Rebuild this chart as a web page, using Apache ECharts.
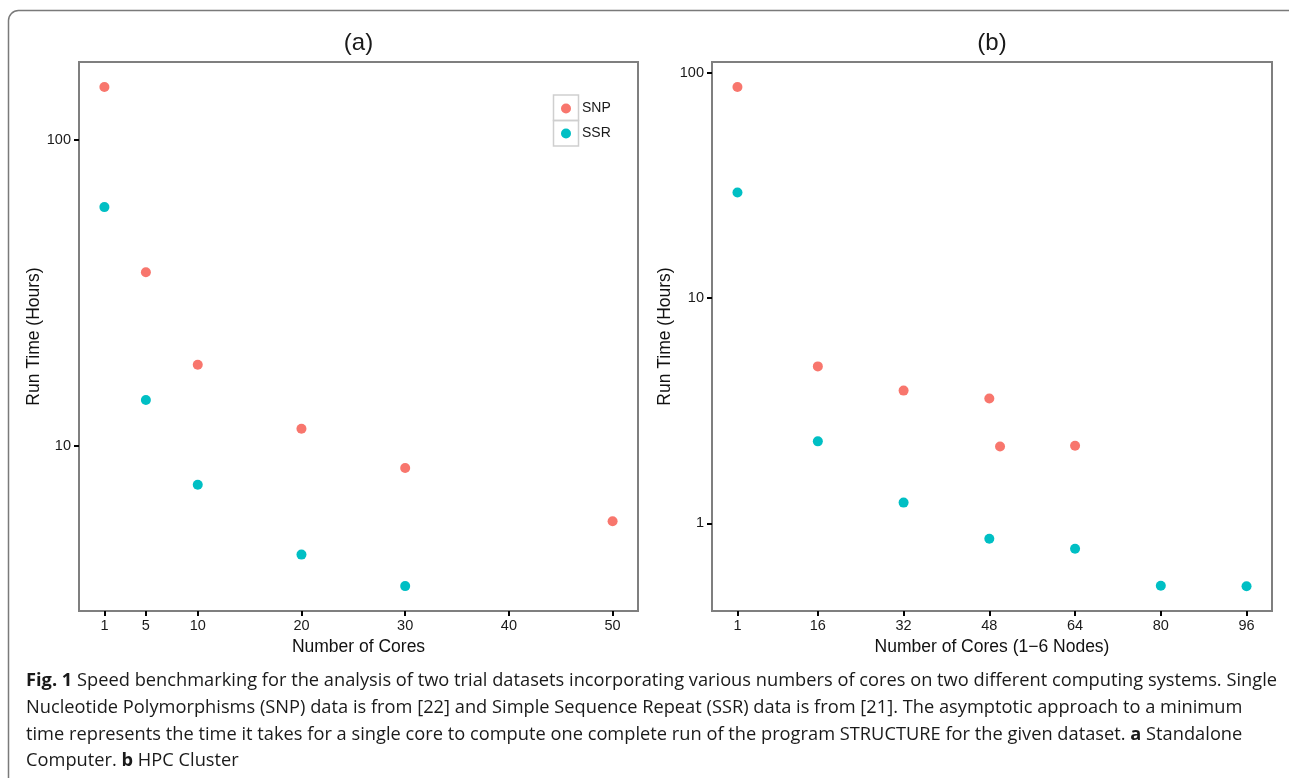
<!DOCTYPE html>
<html>
<head>
<meta charset="utf-8">
<script src="https://cdn.jsdelivr.net/npm/echarts@6/dist/echarts.min.js"></script>
<style>
html,body{margin:0;padding:0;background:#fff;}
#chart{width:1289px;height:778px;}
</style>
</head>
<body>
<div id="chart"></div>
<script>
// ---------- data ----------
const seriesNames = ['SNP', 'SSR'];

// Panel (a): Standalone computer
const coresA_SNP = [1, 5, 10, 20, 30, 50];
const hoursA_SNP = [149, 36.9, 18.4, 11.35, 8.45, 5.66];
const coresA_SSR = [1, 5, 10, 20, 30];
const hoursA_SSR = [60.3, 14.1, 7.45, 4.40, 3.47];

// Panel (b): HPC cluster
const coresB_SNP = [1, 16, 32, 48, 50, 64];
const hoursB_SNP = [86.3, 4.97, 3.88, 3.58, 2.19, 2.21];
const coresB_SSR = [1, 16, 32, 48, 64, 80, 96];
const hoursB_SSR = [29.4, 2.31, 1.235, 0.854, 0.771, 0.528, 0.525];

// tick labels
const xTicksA = [1, 5, 10, 20, 30, 40, 50];
const xTicksB = [1, 16, 32, 48, 64, 80, 96];
const yTicksA = [10, 100];
const yTicksB = [1, 10, 100];

const panelTitles = ['(a)', '(b)'];
const xNames = ['Number of Cores', 'Number of Cores (1\u22126 Nodes)'];
const yName = 'Run Time (Hours)';

const captionLines = [
  '{b|Fig. 1} Speed benchmarking for the analysis of two trial datasets incorporating various numbers of cores on two different computing systems. Single',
  'Nucleotide Polymorphisms (SNP) data is from [22] and Simple Sequence Repeat (SSR) data is from [21]. The asymptotic approach to a minimum',
  'time represents the time it takes for a single core to compute one complete run of the program STRUCTURE for the given dataset. {b|a} Standalone',
  'Computer. {b|b} HPC Cluster'
];

// ---------- styling ----------
const colors = ['#F8766D', '#00BFC4'];
const FONT = '"Liberation Sans", Arial, Helvetica, sans-serif';
const CAP_FONT = '"Open Sans", "Noto Sans", sans-serif';
const CAP_SIZE = 17.5;
const NAME_SIZE = 17.5;
const TICK_SIZE = 14.5;

const zip = (xs, ys) => xs.map((x, i) => [x, ys[i]]);

function xAxisCfg(gridIndex, min, max, ticks, name) {
  return {
    type: 'value', gridIndex, min, max, name,
    nameLocation: 'middle', nameGap: 22,
    nameTextStyle: {fontFamily: FONT, fontSize: NAME_SIZE, color: '#111'},
    axisLine: {show: true, onZero: false, lineStyle: {color: '#7f7f7f', width: 2}},
    axisTick: {show: true, length: 5, customValues: ticks, lineStyle: {color: '#000', width: 2}},
    axisLabel: {customValues: ticks, margin: 7, fontFamily: FONT, fontSize: TICK_SIZE, color: '#1a1a1a'},
    splitLine: {show: false}
  };
}
function yAxisCfg(gridIndex, min, max, ticks, gap) {
  return {
    type: 'log', logBase: 10, gridIndex, min, max, name: yName,
    nameLocation: 'middle', nameGap: gap,
    nameTextStyle: {fontFamily: FONT, fontSize: NAME_SIZE, color: '#111'},
    axisLine: {show: true, onZero: false, lineStyle: {color: '#7f7f7f', width: 2}},
    axisTick: {show: true, length: 5, customValues: ticks, lineStyle: {color: '#000', width: 2}},
    axisLabel: {customValues: ticks, margin: 8, fontFamily: FONT, fontSize: TICK_SIZE, color: '#1a1a1a'},
    splitLine: {show: false}, minorSplitLine: {show: false}
  };
}

const chart = echarts.init(document.getElementById('chart'), null, {renderer: 'canvas'});

// measure caption so it fits the reference line width
const mctx = document.createElement('canvas').getContext('2d');
mctx.font = 'bold ' + CAP_SIZE + 'px ' + CAP_FONT;
let w1 = mctx.measureText('Fig. 1').width;
mctx.font = CAP_SIZE + 'px ' + CAP_FONT;
w1 += mctx.measureText(captionLines[0].replace('{b|Fig. 1}', '')).width;
const capScale = 1251 / w1;

const graphics = [
  {type: 'rect', shape: {x: 8.5, y: 10.5, width: 1320, height: 820, r: 10}, style: {fill: 'none', stroke: '#7a7a7a', lineWidth: 1.5}, silent: true, z: 0},
  {type: 'text', x: 358.5, y: 43, style: {text: panelTitles[0], font: '24px ' + FONT, fill: '#1a1a1a', align: 'center', verticalAlign: 'middle'}},
  {type: 'text', x: 992, y: 43, style: {text: panelTitles[1], font: '24px ' + FONT, fill: '#1a1a1a', align: 'center', verticalAlign: 'middle'}},
  {type: 'rect', shape: {x: 553.5, y: 95, width: 25, height: 25.5}, style: {fill: 'none', stroke: '#cfcfcf', lineWidth: 1.5}, z: 5},
  {type: 'rect', shape: {x: 553.5, y: 120.5, width: 25, height: 25.5}, style: {fill: 'none', stroke: '#cfcfcf', lineWidth: 1.5}, z: 5}
];
const capY = [681, 708, 735, 761];
captionLines.forEach((t, i) => {
  graphics.push({
    type: 'text', x: 26, y: capY[i], scaleX: capScale, originX: 0,
    style: {
      text: t, fontFamily: CAP_FONT, fontSize: CAP_SIZE, fill: '#1a1a1a', verticalAlign: 'middle',
      rich: {b: {fontFamily: CAP_FONT, fontSize: CAP_SIZE, fontWeight: 'bold', fill: '#1a1a1a'}}
    }
  });
});

const scatter = (name, xi, data) => ({
  name, type: 'scatter', xAxisIndex: xi, yAxisIndex: xi, symbolSize: 10,
  itemStyle: {opacity: 1}, data
});

const option = {
  animation: false,
  backgroundColor: '#fff',
  color: colors,
  legend: {
    data: seriesNames, orient: 'vertical', left: 561, top: 96, padding: 0,
    icon: 'circle', itemWidth: 10, itemHeight: 10, itemGap: 0,
    itemStyle: {opacity: 1},
    textStyle: {fontFamily: FONT, fontSize: 14, color: '#1a1a1a', lineHeight: 25, padding: [0, 0, 0, 6]},
    selectedMode: false
  },
  grid: [
    {left: 79, top: 62, width: 559, height: 549, show: true, borderColor: '#7f7f7f', borderWidth: 2, containLabel: false},
    {left: 712, top: 62, width: 560, height: 549, show: true, borderColor: '#7f7f7f', borderWidth: 2, containLabel: false}
  ],
  xAxis: [
    xAxisCfg(0, -1.45, 52.45, xTicksA, xNames[0]),
    xAxisCfg(1, -3.75, 100.75, xTicksB, xNames[1])
  ],
  yAxis: [
    yAxisCfg(0, 2.877, 179.9, yTicksA, 36),
    yAxisCfg(1, 0.408, 111.5, yTicksB, 37.5)
  ],
  series: [
    scatter(seriesNames[0], 0, zip(coresA_SNP, hoursA_SNP)),
    scatter(seriesNames[1], 0, zip(coresA_SSR, hoursA_SSR)),
    scatter(seriesNames[0], 1, zip(coresB_SNP, hoursB_SNP)),
    scatter(seriesNames[1], 1, zip(coresB_SSR, hoursB_SSR))
  ],
  graphic: graphics
};
chart.setOption(option);
</script>
</body>
</html>
